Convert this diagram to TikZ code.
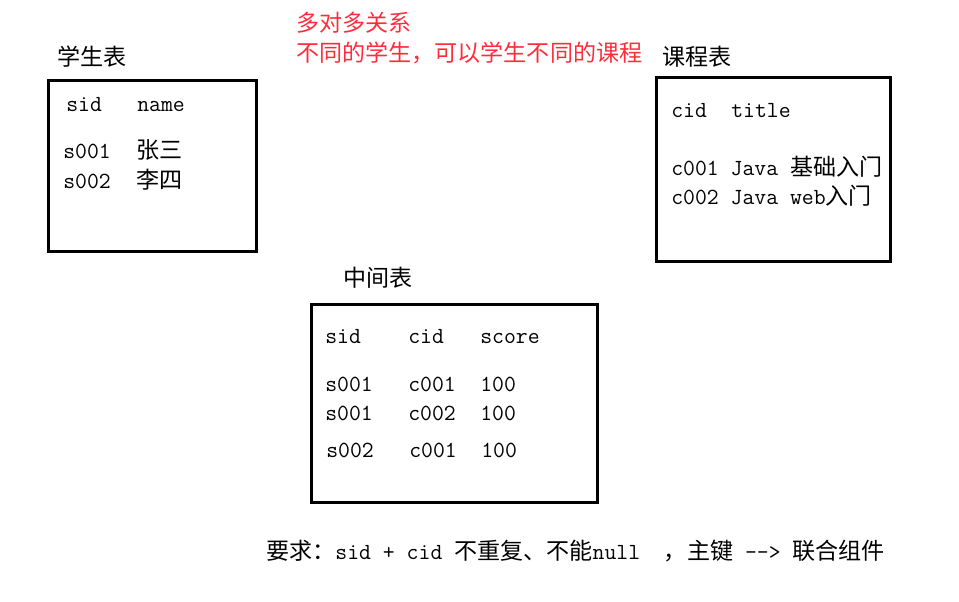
\documentclass[tikz,border=0pt]{standalone}
\usepackage{fontspec}
\setmonofont{Latin Modern Mono}
\newfontfamily\cjk{Noto Sans CJK SC}
\usepackage{xcolor}
\definecolor{notered}{HTML}{FF2D3C}
\newcommand{\zh}[1]{{\cjk\fontsize{17.3pt}{20pt}\selectfont #1}}

\begin{document}
\begin{tikzpicture}[x=0.75pt, y=-0.75pt,
    tablebox/.style={draw=black, line width=2.25pt},
    cell/.style={anchor=base west, inner sep=0pt, font=\ttfamily\fontsize{17.3pt}{20pt}\selectfont},
    remark/.style={cell, text=notered}
  ]
  \useasboundingbox (0,0) rectangle (959,601);

  % note in red at the top
  \node[remark] (noteA) at (296,31) {\zh{多对多关系}};
  \node[remark] (noteB) at (296,61) {\zh{不同的学生，可以学生不同的课程}};

  % student table
  \node[cell] (stuTitle) at (57,65) {\zh{学生表}};
  \draw[tablebox] (48.5,80.5) rectangle (256.5,251.5);
  \node[cell] (stuSid)  at (66,111) {sid};
  \node[cell] (stuName) at (137,111) {name};
  \node[cell] (stuIdA)  at (63,158) {s001};
  \node[cell] (stuNmA)  at (136,158) {\zh{张三}};
  \node[cell] (stuIdB)  at (63,188) {s002};
  \node[cell] (stuNmB)  at (136,188) {\zh{李四}};

  % course table
  \node[cell] (crsTitle) at (662,65) {\zh{课程表}};
  \draw[tablebox] (656.5,77.5) rectangle (890.5,261.5);
  \node[cell] (crsCid)   at (671,117) {cid};
  \node[cell] (crsTitleCol) at (731,117) {title};
  \node[cell] (crsRowA)  at (671,175) {c001 Java \zh{基础入门}};
  \node[cell] (crsRowB)  at (671,204) {c002 Java web\zh{入门}};

  % link table
  \node[cell] (midTitle) at (343,286) {\zh{中间表}};
  \draw[tablebox] (311.5,304.5) rectangle (597.5,502.5);
  \node[cell] (midSid)   at (325,343) {sid};
  \node[cell] (midCid)   at (408,343) {cid};
  \node[cell] (midScore) at (480,343) {score};
  \node[cell] (midSidA)  at (325,391) {s001};
  \node[cell] (midCidA)  at (408,391) {c001};
  \node[cell] (midScA)   at (480,391) {100};
  \node[cell] (midSidB)  at (325,420) {s001};
  \node[cell] (midCidB)  at (408,420) {c002};
  \node[cell] (midScB)   at (480,420) {100};
  \node[cell] (midSidC)  at (326,457) {s002};
  \node[cell] (midCidC)  at (409,457) {c001};
  \node[cell] (midScC)   at (481,457) {100};

  % requirement line
  \node[cell] (req) at (266,559) {\zh{要求：}sid + cid \zh{不重复、不能}null\ \ \zh{，主键} --> \zh{联合组件}};
\end{tikzpicture}
\end{document}
